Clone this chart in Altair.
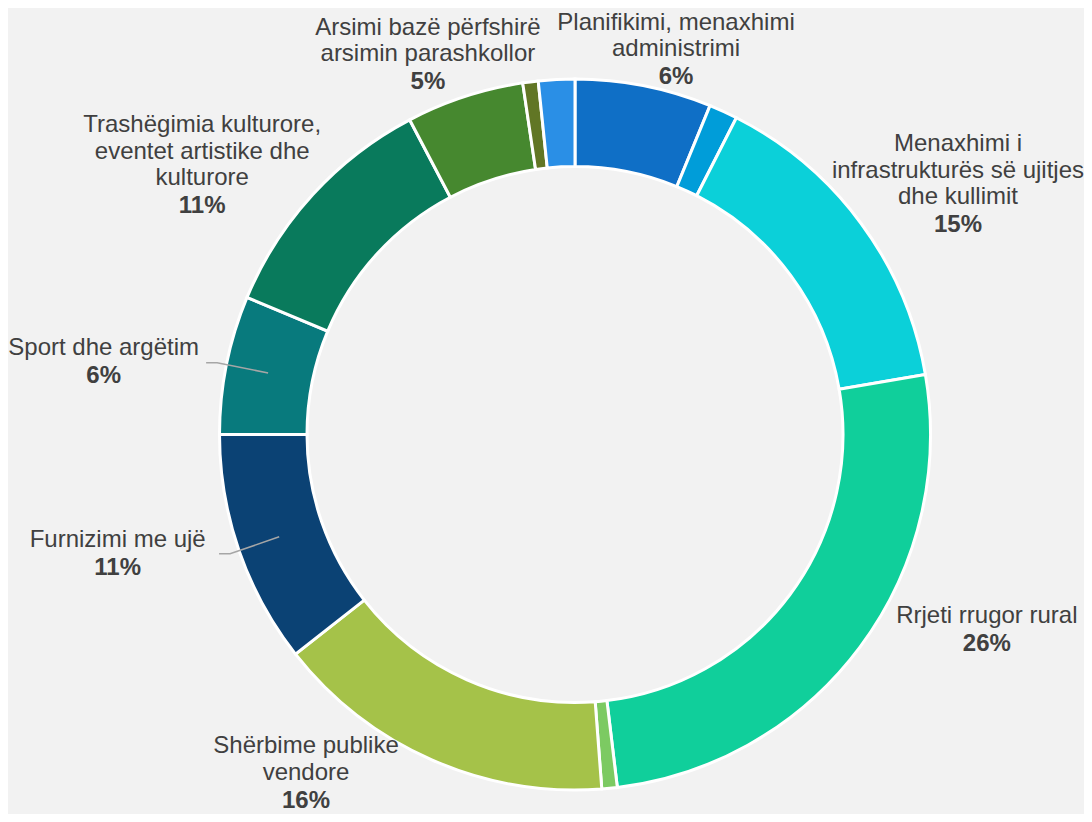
import math
import altair as alt
import pandas as pd

# ---- data ----
categories = [
    "Planifikimi, menaxhimi administrimi",
    "Segment 2",
    "Menaxhimi i infrastrukturës së ujitjes dhe kullimit",
    "Rrjeti rrugor rural",
    "Segment 5",
    "Shërbime publike vendore",
    "Furnizimi me ujë",
    "Sport dhe argëtim",
    "Trashëgimia kulturore, eventet artistike dhe kulturore",
    "Arsimi bazë përfshirë arsimin parashkollor",
    "Segment 11",
    "Segment 12",
]
shares = [6.2, 1.3, 14.8, 25.8, 0.7, 15.6, 10.6, 6.3, 11.0, 5.35, 0.7, 1.65]
label_text = [
    "Planifikimi, menaxhimi\nadministrimi",
    "",
    "Menaxhimi i\ninfrastrukturës së ujitjes\ndhe kullimit",
    "Rrjeti rrugor rural",
    "",
    "Shërbime publike\nvendore",
    "Furnizimi me ujë",
    "Sport dhe argëtim",
    "Trashëgimia kulturore,\neventet artistike dhe\nkulturore",
    "Arsimi bazë përfshirë\narsimin parashkollor",
    "",
    "",
]

# ---- styles ----
colors = ["#0F6FC6", "#009DD9", "#0BD0D9", "#10CF9B", "#7CCA62", "#A5C249",
          "#0B4274", "#087A7D", "#097A5C", "#46882F", "#617625", "#2A8FE6"]
label_radius = [417, 0, 476.5, 453, 0, 416.9, 471, 478, 480, 426, 0, 0]
label_angle_shift = [2.86, 0, -0.15, -12.1, 0, 16.42, 5.25, -1.76, -3.44, -2.11, 0, 0]
has_leader = [False, False, False, False, False, False, True, True, False, False, False, False]

W, H = 1076, 806
CX, CY = 567, 426.5
R_OUT, R_IN = 355.5, 268
FONT = "Liberation Sans"
TXT = "#404040"
LH = 26.5

total = sum(shares)
rows = []
cum = 0.0
for i, (c, v) in enumerate(zip(categories, shares)):
    mid = cum + v / 2
    cum += v
    rows.append({
        "idx": i,
        "cat": c,
        "value": v,
        "mid": mid,
        "label": label_text[i],
        "n_lines": label_text[i].count("\n") + 1,
        "pct": f"{round(v / total * 100)}%",
        "lab_theta": mid + label_angle_shift[i] / 3.6,
        "lab_r": label_radius[i],
    })
df = pd.DataFrame(rows)
lab_df = df[df["label"] != ""]

# leader lines
lines = []
for r in rows:
    if has_leader[r["idx"]]:
        ang = r["mid"] / total * 2 * math.pi
        ex, ey = CX + 313 * math.sin(ang), CY - 313 * math.cos(ang)
        bx, by = CX + 365 * math.sin(ang), CY - 365 * math.cos(ang)
        lines += [
            {"g": r["idx"], "s": 0, "x": bx - 11, "y": by},
            {"g": r["idx"], "s": 1, "x": bx, "y": by},
            {"g": r["idx"], "s": 2, "x": ex, "y": ey},
        ]
line_df = pd.DataFrame(lines)

theta_scale = alt.Scale(domain=[0, total])

arcs = alt.Chart(df).mark_arc(
    innerRadius=R_IN, outerRadius=R_OUT, stroke="white", strokeWidth=3
).encode(
    theta=alt.Theta("value:Q", stack=True, scale=theta_scale),
    color=alt.Color("cat:N", scale=alt.Scale(domain=categories, range=colors), legend=None),
    order=alt.Order("idx:Q"),
    x=alt.value(CX),
    y=alt.value(CY),
)

label_enc = dict(
    theta=alt.Theta("lab_theta:Q", stack=None, scale=theta_scale),
    radius=alt.Radius("lab_r:Q", scale=None),
    x=alt.value(CX),
    y=alt.value(CY),
)

names = alt.Chart(lab_df).mark_text(
    font=FONT, fontSize=24, color=TXT, align="center", baseline="alphabetic",
    lineBreak="\n", lineHeight=LH
).encode(text="label:N", **label_enc)

pct_layers = []
for n in sorted(lab_df["n_lines"].unique()):
    pct_layers.append(
        alt.Chart(lab_df).transform_filter(alt.datum.n_lines == int(n)).mark_text(
            font=FONT, fontSize=24, fontWeight="bold", color=TXT, align="center",
            baseline="alphabetic", dy=float(n) * LH + 1.5
        ).encode(text="pct:N", **label_enc)
    )

leaders = alt.Chart(line_df).mark_line(color="#A6A6A6", strokeWidth=1.5).encode(
    x=alt.X("x:Q", scale=None, axis=None),
    y=alt.Y("y:Q", scale=None, axis=None),
    detail="g:N",
    order="s:Q",
)

chart = alt.layer(arcs, leaders, names, *pct_layers).properties(
    width=W, height=H, autosize=alt.AutoSizeParams(type="none"), padding=0,
    background="#F2F2F2",
).configure_view(stroke=None)

chart.save("out.html", embed_options={"renderer": "svg", "actions": False})
